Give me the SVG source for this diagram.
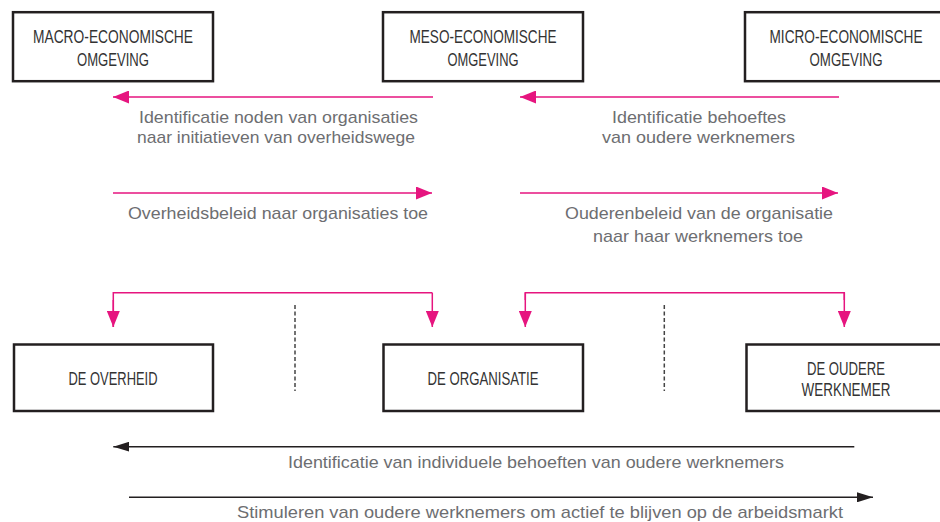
<svg xmlns="http://www.w3.org/2000/svg" width="940" height="522" viewBox="0 0 940 522">
<style>
.box{fill:#fff;stroke:#231f20;stroke-width:2.5}
.bt{font-family:"Liberation Sans",Arial,sans-serif;font-size:17.5px;fill:#333;text-anchor:middle}
.lb{font-family:"Liberation Sans",Arial,sans-serif;font-size:17px;fill:#6d6e71;text-anchor:middle}
.pk{stroke:#e6157f;stroke-width:1.5;fill:none}
.bk{stroke:#231f20;stroke-width:1.4;fill:none}
.ds{stroke:#444;stroke-width:1.5;stroke-dasharray:4 2.5;fill:none}
</style>
<defs>
<marker id="ap" markerUnits="userSpaceOnUse" markerWidth="16" markerHeight="13" refX="16" refY="6.5" orient="auto"><path d="M0,0 L16,6.5 L0,13 z" fill="#e6157f"/></marker>
<marker id="ab" markerUnits="userSpaceOnUse" markerWidth="16" markerHeight="10" refX="16" refY="5" orient="auto"><path d="M0,0 L16,5 L0,10 z" fill="#231f20"/></marker>
</defs>
<g id="macro">
<rect class="box" x="13" y="12.2" width="200" height="69"/>
<text class="bt" x="113" y="43" textLength="160" lengthAdjust="spacingAndGlyphs">MACRO-ECONOMISCHE</text>
<text class="bt" x="113" y="66" textLength="72" lengthAdjust="spacingAndGlyphs">OMGEVING</text>
</g>
<g id="meso">
<rect class="box" x="383" y="12.2" width="200" height="69"/>
<text class="bt" x="483" y="43" textLength="147" lengthAdjust="spacingAndGlyphs">MESO-ECONOMISCHE</text>
<text class="bt" x="483" y="66" textLength="71" lengthAdjust="spacingAndGlyphs">OMGEVING</text>
</g>
<g id="micro">
<rect class="box" x="745" y="12.2" width="202" height="69"/>
<text class="bt" x="846" y="43" textLength="153" lengthAdjust="spacingAndGlyphs">MICRO-ECONOMISCHE</text>
<text class="bt" x="846" y="66" textLength="73" lengthAdjust="spacingAndGlyphs">OMGEVING</text>
</g>
<g id="overheid">
<rect class="box" x="14" y="344.5" width="199" height="66.5"/>
<text class="bt" x="113" y="385" textLength="89" lengthAdjust="spacingAndGlyphs">DE OVERHEID</text>
</g>
<g id="organisatie">
<rect class="box" x="383.5" y="344.5" width="199.5" height="66.5"/>
<text class="bt" x="483" y="385" textLength="111" lengthAdjust="spacingAndGlyphs">DE ORGANISATIE</text>
</g>
<g id="werknemer">
<rect class="box" x="746.5" y="344.5" width="200" height="66.5"/>
<text class="bt" x="846" y="375" textLength="78" lengthAdjust="spacingAndGlyphs">DE OUDERE</text>
<text class="bt" x="846" y="396" textLength="89" lengthAdjust="spacingAndGlyphs">WERKNEMER</text>
</g>
<g id="connectors">
<line class="pk" x1="433" y1="97" x2="113" y2="97" marker-end="url(#ap)"/>
<line class="pk" x1="839" y1="97" x2="520" y2="97" marker-end="url(#ap)"/>
<line class="pk" x1="113" y1="193" x2="432" y2="193" marker-end="url(#ap)"/>
<line class="pk" x1="520" y1="193" x2="838" y2="193" marker-end="url(#ap)"/>
<path class="pk" d="M113.3,327 V292.7 H432.3"/>
<line class="pk" x1="432.3" y1="292.7" x2="432.3" y2="327" marker-end="url(#ap)"/>
<line class="pk" x1="113.3" y1="300" x2="113.3" y2="327" marker-end="url(#ap)"/>
<path class="pk" d="M525.3,300 V292.7 H844.3 V300"/>
<line class="pk" x1="525.3" y1="292.7" x2="525.3" y2="327" marker-end="url(#ap)"/>
<line class="pk" x1="844.3" y1="292.7" x2="844.3" y2="327" marker-end="url(#ap)"/>
<line class="ds" x1="295" y1="305" x2="295" y2="391"/>
<line class="ds" x1="664.3" y1="305" x2="664.3" y2="391"/>
<line class="bk" x1="854.3" y1="446.7" x2="113.3" y2="446.7" marker-end="url(#ab)"/>
<line class="bk" x1="129" y1="497.3" x2="873" y2="497.3" marker-end="url(#ab)"/>
</g>
<g id="labels">
<text class="lb" x="278.5" y="122.7" textLength="279" lengthAdjust="spacingAndGlyphs">Identificatie noden van organisaties</text>
<text class="lb" x="276" y="143" textLength="278" lengthAdjust="spacingAndGlyphs">naar initiatieven van overheidswege</text>
<text class="lb" x="699" y="122.7" textLength="174" lengthAdjust="spacingAndGlyphs">Identificatie behoeftes</text>
<text class="lb" x="698.5" y="143" textLength="193" lengthAdjust="spacingAndGlyphs">van oudere werknemers</text>
<text class="lb" x="278" y="218.5" textLength="300" lengthAdjust="spacingAndGlyphs">Overheidsbeleid naar organisaties toe</text>
<text class="lb" x="699" y="219" textLength="268" lengthAdjust="spacingAndGlyphs">Ouderenbeleid van de organisatie</text>
<text class="lb" x="698" y="241.5" textLength="210" lengthAdjust="spacingAndGlyphs">naar haar werknemers toe</text>
<text class="lb" x="536" y="468.3" textLength="496" lengthAdjust="spacingAndGlyphs">Identificatie van individuele behoeften van oudere werknemers</text>
<text class="lb" x="540" y="518" textLength="606" lengthAdjust="spacingAndGlyphs">Stimuleren van oudere werknemers om actief te blijven op de arbeidsmarkt</text>
</g>
</svg>
